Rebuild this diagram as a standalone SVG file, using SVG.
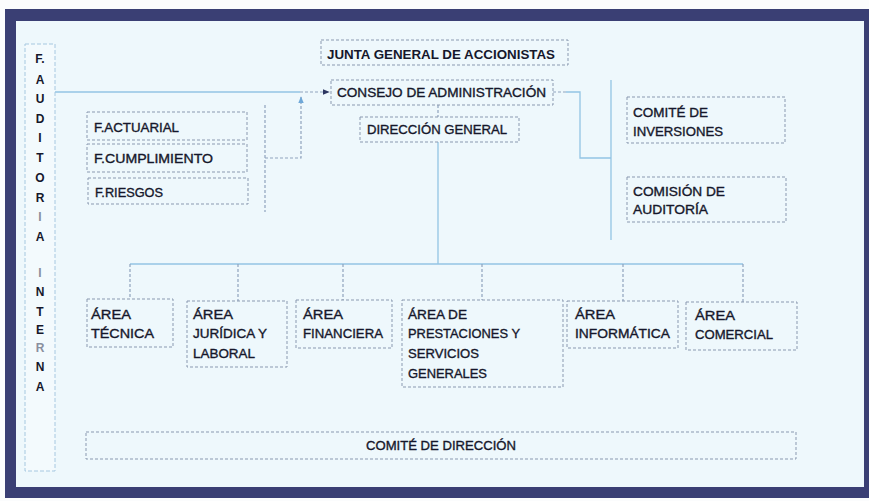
<svg xmlns="http://www.w3.org/2000/svg" width="869" height="501" viewBox="0 0 869 501">
<style>
.bx{fill:none;stroke:#8a99b0;stroke-width:1;stroke-dasharray:3 2}
.t{font-family:"Liberation Sans",Arial,sans-serif;font-size:13px;fill:#15172b;stroke:#15172b;stroke-width:0.35}
.tb{font-family:"Liberation Sans",Arial,sans-serif;font-size:13px;font-weight:bold;fill:#15172b}
.v{font-family:"Liberation Sans",Arial,sans-serif;font-size:12px;font-weight:bold;fill:#15172b;text-anchor:middle}
.vf{font-family:"Liberation Sans",Arial,sans-serif;font-size:12px;font-weight:bold;fill:#8a8f9e;text-anchor:middle}
.ln{fill:none;stroke:#93c4e4;stroke-width:1.3}
.ld{fill:none;stroke:#8fa3bd;stroke-width:1.2;stroke-dasharray:3 2}
</style>
<defs>
<marker id="ah" viewBox="0 0 10 10" refX="9" refY="5" markerWidth="6" markerHeight="6" orient="auto">
<path d="M0,1 L10,5 L0,9 z" fill="#2c3560"/>
</marker>
<marker id="ahb" viewBox="0 0 10 10" refX="9" refY="5" markerWidth="6" markerHeight="6" orient="auto">
<path d="M0,1 L10,5 L0,9 z" fill="#6fa8d8"/>
</marker>
</defs>
<rect x="0" y="0" width="869" height="501" fill="#fbfcfd"/>
<rect x="5" y="9" width="864" height="489" fill="#3a3f74"/>
<rect x="16" y="21" width="848" height="466" fill="#eef8fc"/>

<g id="connectors">
<path class="ln" d="M55,92 H300"/>
<path class="ld" d="M300,92 H329" marker-end="url(#ah)"/>
<path class="ld" d="M265,105 V212"/>
<path class="ld" d="M265,158 H301 V97" marker-end="url(#ahb)"/>
<path class="ld" d="M438,105 V117"/>
<path class="ln" d="M438,142 V264"/>
<path class="ln" d="M130,264 H743"/>
<path class="ld" d="M130,264 V299"/>
<path class="ld" d="M238,264 V301"/>
<path class="ld" d="M343,264 V300"/>
<path class="ld" d="M482,264 V300"/>
<path class="ld" d="M623,264 V301"/>
<path class="ld" d="M743,264 V302"/>
<path class="ld" d="M553,92 H566"/>
<path class="ln" d="M566,92 H580 V158 H611"/>
<path class="ln" d="M611,80 V240"/>
</g>

<g id="auditoria">
<rect x="25" y="44" width="30" height="427" fill="#f3fafd" stroke="#a6c8e0" stroke-width="1" stroke-dasharray="4 2"/>
<text class="v" x="40" y="63">F.</text>
<text class="v" x="40" y="84">A</text>
<text class="v" x="40" y="103">U</text>
<text class="v" x="40" y="123">D</text>
<text class="v" x="40" y="142">I</text>
<text class="v" x="40" y="162">T</text>
<text class="v" x="40" y="182">O</text>
<text class="v" x="40" y="202">R</text>
<text class="vf" x="40" y="221">I</text>
<text class="v" x="40" y="241">A</text>
<text class="vf" x="40" y="277">I</text>
<text class="v" x="40" y="296">N</text>
<text class="v" x="40" y="316">T</text>
<text class="v" x="40" y="334">E</text>
<text class="vf" x="40" y="352">R</text>
<text class="v" x="40" y="371">N</text>
<text class="v" x="40" y="391">A</text>
</g>

<g id="junta">
<rect class="bx" x="321" y="40" width="247" height="25"/>
<text class="tb" x="327" y="59" textLength="228" lengthAdjust="spacingAndGlyphs">JUNTA GENERAL DE ACCIONISTAS</text>
</g>
<g id="consejo">
<rect class="bx" x="331" y="80" width="222" height="25"/>
<text class="t" x="337" y="97" font-size="14" textLength="209" lengthAdjust="spacingAndGlyphs">CONSEJO DE ADMINISTRACIÓN</text>
</g>
<g id="direccion">
<rect class="bx" x="360" y="117" width="159" height="25"/>
<text class="t" x="367" y="134" font-size="14" textLength="140" lengthAdjust="spacingAndGlyphs">DIRECCIÓN GENERAL</text>
</g>

<g id="f-actuarial">
<rect class="bx" x="87" y="112" width="160" height="28"/>
<text class="t" x="94" y="132" textLength="85" lengthAdjust="spacingAndGlyphs">F.ACTUARIAL</text>
</g>
<g id="f-cumplimiento">
<rect class="bx" x="87" y="144" width="160" height="28"/>
<text class="t" x="94" y="163" textLength="119" lengthAdjust="spacingAndGlyphs">F.CUMPLIMIENTO</text>
</g>
<g id="f-riesgos">
<rect class="bx" x="88" y="178" width="160" height="26"/>
<text class="t" x="95" y="197" textLength="68" lengthAdjust="spacingAndGlyphs">F.RIESGOS</text>
</g>

<g id="comite-inversiones">
<rect class="bx" x="627" y="97" width="158" height="46"/>
<text class="t" x="633" y="117" textLength="75" lengthAdjust="spacingAndGlyphs">COMITÉ DE</text>
<text class="t" x="633" y="136" textLength="90" lengthAdjust="spacingAndGlyphs">INVERSIONES</text>
</g>
<g id="comision-auditoria">
<rect class="bx" x="627" y="177" width="159" height="45"/>
<text class="t" x="633" y="196" textLength="92" lengthAdjust="spacingAndGlyphs">COMISIÓN DE</text>
<text class="t" x="633" y="214" textLength="75" lengthAdjust="spacingAndGlyphs">AUDITORÍA</text>
</g>

<g id="area-tecnica">
<rect class="bx" x="87" y="299" width="86" height="48"/>
<text class="t" x="91" y="319" textLength="40" lengthAdjust="spacingAndGlyphs">ÁREA</text>
<text class="t" x="91" y="338" textLength="63" lengthAdjust="spacingAndGlyphs">TÉCNICA</text>
</g>
<g id="area-juridica">
<rect class="bx" x="187" y="301" width="100" height="66"/>
<text class="t" x="193" y="319" textLength="40" lengthAdjust="spacingAndGlyphs">ÁREA</text>
<text class="t" x="193" y="338" textLength="74" lengthAdjust="spacingAndGlyphs">JURÍDICA Y</text>
<text class="t" x="193" y="358" textLength="62" lengthAdjust="spacingAndGlyphs">LABORAL</text>
</g>
<g id="area-financiera">
<rect class="bx" x="296" y="300" width="96" height="48"/>
<text class="t" x="303" y="319" textLength="40" lengthAdjust="spacingAndGlyphs">ÁREA</text>
<text class="t" x="303" y="338" textLength="80" lengthAdjust="spacingAndGlyphs">FINANCIERA</text>
</g>
<g id="area-prestaciones">
<rect class="bx" x="402" y="300" width="161" height="87"/>
<text class="t" x="408" y="319" textLength="59" lengthAdjust="spacingAndGlyphs">ÁREA DE</text>
<text class="t" x="408" y="338" textLength="112" lengthAdjust="spacingAndGlyphs">PRESTACIONES Y</text>
<text class="t" x="408" y="358" textLength="71" lengthAdjust="spacingAndGlyphs">SERVICIOS</text>
<text class="t" x="408" y="378" textLength="79" lengthAdjust="spacingAndGlyphs">GENERALES</text>
</g>
<g id="area-informatica">
<rect class="bx" x="567" y="301" width="111" height="47"/>
<text class="t" x="575" y="319" textLength="40" lengthAdjust="spacingAndGlyphs">ÁREA</text>
<text class="t" x="575" y="338" textLength="95" lengthAdjust="spacingAndGlyphs">INFORMÁTICA</text>
</g>
<g id="area-comercial">
<rect class="bx" x="686" y="302" width="111" height="48"/>
<text class="t" x="695" y="320" textLength="40" lengthAdjust="spacingAndGlyphs">ÁREA</text>
<text class="t" x="695" y="339" textLength="78" lengthAdjust="spacingAndGlyphs">COMERCIAL</text>
</g>

<g id="comite-direccion">
<rect class="bx" x="86" y="432" width="710" height="27"/>
<text class="t" x="366" y="450" font-size="12" textLength="150" lengthAdjust="spacingAndGlyphs">COMITÉ DE DIRECCIÓN</text>
</g>
</svg>
